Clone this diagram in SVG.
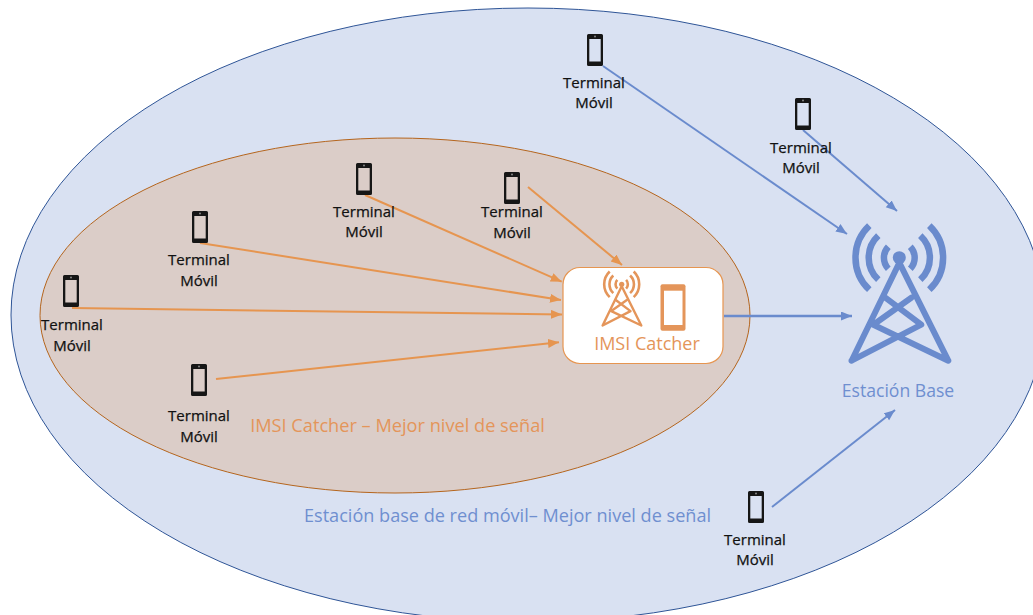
<svg xmlns="http://www.w3.org/2000/svg" xmlns:xlink="http://www.w3.org/1999/xlink" width="1033" height="615" viewBox="0 0 1033 615">
<style>
text{font-family:"Open Sans","Liberation Sans",sans-serif}
.t{font-size:15px;fill:#111;stroke:#111;stroke-width:.25px;text-anchor:middle;letter-spacing:0}
.b{fill:#6f8fd0}
.o{fill:#e4955a}
.cb{stroke:#6a8bcd;stroke-width:2;fill:none;marker-end:url(#ab)}
.co{stroke:#e69550;stroke-width:2;fill:none;marker-end:url(#ao)}
</style>
<defs>
<marker id="ab" markerUnits="userSpaceOnUse" markerWidth="12" markerHeight="10" refX="11" refY="4.500" orient="auto"><path d="M0,0L11,4.500L0,9Z" fill="#6a8bcd"/></marker>
<marker id="ao" markerUnits="userSpaceOnUse" markerWidth="12" markerHeight="10" refX="11" refY="4.500" orient="auto"><path d="M0,0L11,4.500L0,9Z" fill="#e69550"/></marker>
<g id="phone"><path fill-rule="evenodd" fill="#161616" d="M-6.500,-16H6.500A1.500,1.500 0 0 1 8,-14.500V14.500A1.500,1.500 0 0 1 6.500,16H-6.500A1.500,1.500 0 0 1 -8,14.500V-14.500A1.500,1.500 0 0 1 -6.500,-16ZM-5.700,-11V11.500H5.700V-11Z"/><circle cx="0" cy="-13.600" r="1" fill="#888"/></g>
<g id="tower" fill="none" stroke-linecap="round" stroke-linejoin="round">
<circle cx="0" cy="0" r="6.500" fill="currentColor"/>
<path stroke="currentColor" stroke-width="6" d="M-47.700,103L0,5L49,103M-47.700,103L22,67L-14,40M49,103L-26,67L12,40"/>
<path stroke="currentColor" stroke-width="6.500" stroke-linecap="butt" d="M-11,-11A16,16 0 0 0 -11,11M11,-11A16,16 0 0 1 11,11M-21,-22A30,30 0 0 0 -21,22M21,-22A30,30 0 0 1 21,22M-30,-32A44,44 0 0 0 -30,32M30,-32A44,44 0 0 1 30,32"/>
</g>
</defs>
<rect width="1033" height="615" fill="#fff"/>
<g id="outer-area"><ellipse cx="528" cy="315" rx="517" ry="307" fill="#d9e1f2" stroke="#2f5597" stroke-width="1"/>
<text x="507.500" y="522" font-size="18.100" class="b" text-anchor="middle">Estación base de red móvil– Mejor nivel de señal</text></g>
<g id="inner-area"><ellipse cx="395" cy="315.500" rx="355" ry="177.500" fill="#dbcdc8" stroke="#b5651d" stroke-width="1"/>
<text x="397.500" y="431.500" font-size="18.200" class="o" text-anchor="middle">IMSI Catcher – Mejor nivel de señal</text></g>
<g id="connectors">
<path class="cb" d="M603,66L847,234"/>
<path class="cb" d="M803,130L897,211"/>
<path class="cb" d="M772,507L895,410"/>
<path class="cb" style="stroke-width:2.500" d="M724,316L852,316"/>
<path class="co" d="M528,187L622,265"/>
<path class="co" d="M365,195L561.700,281.700"/>
<path class="co" d="M200,243L561,300"/>
<path class="co" d="M72,308L562,314.500"/>
<path class="co" d="M216,379L559,342.300"/>
</g>
<g id="imsi-catcher"><rect x="563" y="267.500" width="160" height="96" rx="17" fill="#fff" stroke="#e69550" stroke-width="1.200"/>
<use xlink:href="#tower" href="#tower" transform="translate(621.700,284.300) scale(.4)" color="#e4955a"/>
<rect x="660.500" y="284.300" width="25" height="46.500" rx="2" fill="#e4955a"/><rect x="664" y="290.700" width="18.500" height="34.300" fill="#fff"/>
<text x="647" y="349.500" font-size="18" class="o" text-anchor="middle">IMSI Catcher</text></g>
<g id="base-station"><use xlink:href="#tower" href="#tower" transform="translate(899.300,257.700)" color="#6a8bcd"/>
<text x="898" y="397" font-size="17.600" class="b" text-anchor="middle">Estación Base</text></g>
<g id="t1"><use href="#phone" xlink:href="#phone" x="595" y="50"/><text class="t" x="594" y="88">Terminal</text><text class="t" x="594" y="108">Móvil</text></g>
<g id="t2"><use href="#phone" xlink:href="#phone" x="803" y="114"/><text class="t" x="801" y="153">Terminal</text><text class="t" x="801" y="173">Móvil</text></g>
<g id="t3"><use href="#phone" xlink:href="#phone" x="364" y="179"/><text class="t" x="364" y="217">Terminal</text><text class="t" x="364" y="237">Móvil</text></g>
<g id="t4"><use href="#phone" xlink:href="#phone" x="512" y="188"/><text class="t" x="512" y="217">Terminal</text><text class="t" x="512" y="238">Móvil</text></g>
<g id="t5"><use href="#phone" xlink:href="#phone" x="200" y="227"/><text class="t" x="199" y="265">Terminal</text><text class="t" x="199" y="286">Móvil</text></g>
<g id="t6"><use href="#phone" xlink:href="#phone" x="71" y="291"/><text class="t" x="72" y="330">Terminal</text><text class="t" x="72" y="351">Móvil</text></g>
<g id="t7"><use href="#phone" xlink:href="#phone" x="199" y="380"/><text class="t" x="199" y="421">Terminal</text><text class="t" x="199" y="442">Móvil</text></g>
<g id="t8"><use href="#phone" xlink:href="#phone" x="756" y="507"/><text class="t" x="755" y="545">Terminal</text><text class="t" x="755" y="565">Móvil</text></g>
</svg>
